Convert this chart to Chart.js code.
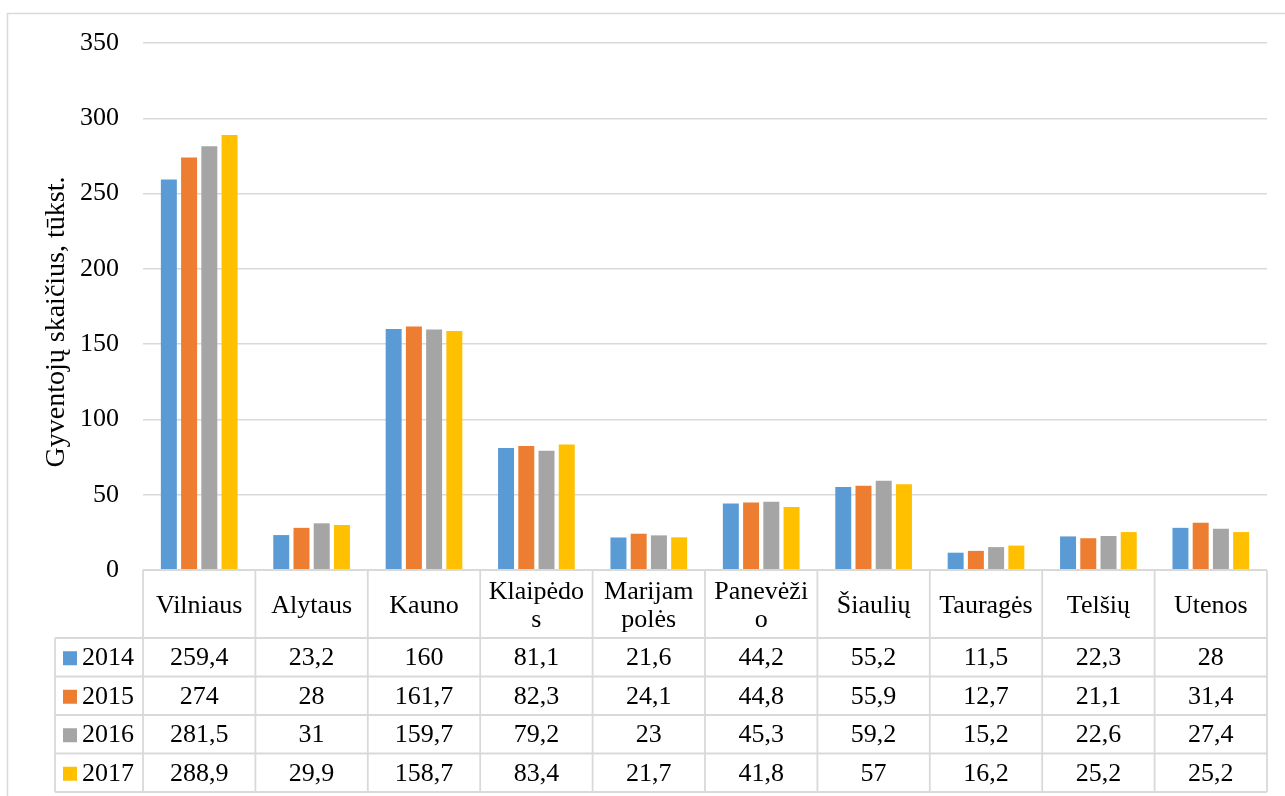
<!DOCTYPE html>
<html><head><meta charset="utf-8">
<script src="https://cdn.jsdelivr.net/npm/chart.js@4/dist/chart.umd.min.js"></script>
<style>html,body{margin:0;padding:0;background:#fff;} canvas{display:block;}</style>
</head><body>
<canvas id="c" width="1285" height="796"></canvas>
<script>
const categories = ["Vilniaus","Alytaus","Kauno",["Klaipėdo","s"],["Marijam","polės"],["Panevėži","o"],"Šiaulių","Tauragės","Telšių","Utenos"];
const years = ["2014","2015","2016","2017"];
const values2014 = [259.4,23.2,160,81.1,21.6,44.2,55.2,11.5,22.3,28];
const values2015 = [274,28,161.7,82.3,24.1,44.8,55.9,12.7,21.1,31.4];
const values2016 = [281.5,31,159.7,79.2,23,45.3,59.2,15.2,22.6,27.4];
const values2017 = [288.9,29.9,158.7,83.4,21.7,41.8,57,16.2,25.2,25.2];
const yTicks = [0,50,100,150,200,250,300,350];
const yTitle = "Gyventojų skaičius, tūkst.";
const colors = ["#5B9BD5","#ED7D31","#A5A5A5","#FFC000"];
const seriesValues = [values2014, values2015, values2016, values2017];

const FONT = '"Liberation Serif","Times New Roman",serif';
const LINE = "#d9d9d9";
const fmt = v => String(v).replace('.', ',');

const tablePlugin = {
  id: 'dataTable',
  beforeDraw(chart) {
    const ctx = chart.ctx;
    ctx.save();
    ctx.strokeStyle = LINE;
    ctx.lineWidth = 1.5;
    ctx.strokeRect(7.5, 13.5, 1300, 820);
    ctx.restore();
  },
  afterDraw(chart) {
    const ctx = chart.ctx;
    const xs = chart.scales.x;
    const area = chart.chartArea;
    const n = categories.length;
    const catW = (area.right - area.left) / n;
    const top = area.bottom;
    const headerH = 68;
    const rowH = 38.5;
    const legendLeft = 55;
    const bottom = top + headerH + rowH * years.length;
    ctx.save();
    // y-axis title
    ctx.save();
    ctx.translate(57, 322);
    ctx.rotate(-Math.PI / 2);
    ctx.fillStyle = "#000";
    ctx.font = "28px " + FONT;
    ctx.textAlign = "center";
    ctx.textBaseline = "middle";
    ctx.fillText(yTitle, 0, 0);
    ctx.restore();

    ctx.strokeStyle = LINE;
    ctx.lineWidth = 1.8;
    ctx.beginPath();
    ctx.moveTo(area.left, top); ctx.lineTo(area.right, top);
    for (let r = 0; r <= years.length; r++) {
      const y = top + headerH + rowH * r;
      ctx.moveTo(legendLeft, y); ctx.lineTo(area.right, y);
    }
    for (let i = 0; i <= n; i++) {
      const x = area.left + catW * i;
      ctx.moveTo(x, top); ctx.lineTo(x, bottom);
    }
    ctx.moveTo(legendLeft, top + headerH); ctx.lineTo(legendLeft, bottom);
    ctx.stroke();

    ctx.fillStyle = "#000";
    ctx.font = "26px " + FONT;
    ctx.textAlign = "center";
    ctx.textBaseline = "middle";
    categories.forEach((c, i) => {
      const cx = xs.getPixelForValue(i);
      if (Array.isArray(c)) {
        ctx.fillText(c[0], cx, top + 22);
        ctx.fillText(c[1], cx, top + 50);
      } else {
        ctx.fillText(c, cx, top + 36);
      }
    });
    years.forEach((yr, r) => {
      const cy = top + headerH + rowH * r + rowH / 2 + 1;
      ctx.fillStyle = colors[r];
      ctx.fillRect(63, cy - 7, 14, 14);
      ctx.fillStyle = "#000";
      ctx.textAlign = "left";
      ctx.fillText(yr, 82, cy);
      ctx.textAlign = "center";
      seriesValues[r].forEach((v, i) => {
        ctx.fillText(fmt(v), xs.getPixelForValue(i), cy);
      });
    });
    ctx.restore();
  }
};

new Chart(document.getElementById('c'), {
  type: 'bar',
  data: {
    labels: categories,
    datasets: years.map((y, i) => ({
      label: y,
      data: seriesValues[i],
      backgroundColor: colors[i],
      categoryPercentage: 0.72,
      barPercentage: 0.79
    }))
  },
  options: {
    responsive: false,
    devicePixelRatio: 1,
    animation: false,
    layout: { padding: { left: 0, right: 18, top: 43, bottom: 226 } },
    plugins: { legend: { display: false }, tooltip: { enabled: false } },
    scales: {
      x: { display: false },
      y: {
        min: 0, max: 350,
        afterFit: s => { s.width = 143; },
        afterBuildTicks: s => { s.ticks = yTicks.map(v => ({ value: v })); },
        grid: { color: LINE, lineWidth: 1.5, drawTicks: false },
        border: { display: false },
        ticks: { padding: 24, color: "#000", font: { family: FONT, size: 26 } }
      }
    }
  },
  plugins: [tablePlugin]
});
</script>
</body></html>
